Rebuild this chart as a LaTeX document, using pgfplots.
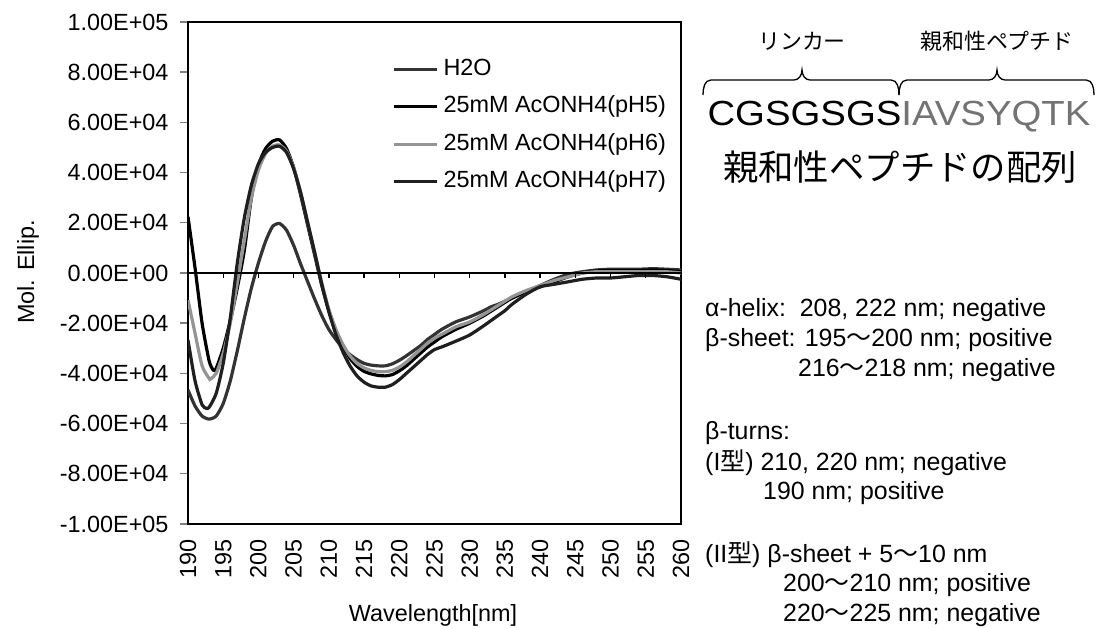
\documentclass[border=0pt]{standalone}
\usepackage{fontspec}
\setmainfont{Liberation Sans}
\newfontfamily\cjk{Noto Sans CJK JP}
\usepackage{pgfplots}
\pgfplotsset{compat=1.18}

\pgfplotstableread{
x y
190 -4.66
191 -5.30
192 -5.70
193 -5.82
194 -5.70
195 -5.20
196 -4.30
197 -3.10
198 -1.80
199 -0.60
200 0.40
201 1.25
202 1.85
203 1.97
204 1.70
205 1.10
206 0.35
207 -0.35
208 -1.05
209 -1.70
210 -2.25
211 -2.65
212 -3.00
213 -3.25
214 -3.45
215 -3.60
216 -3.67
217 -3.70
218 -3.70
219 -3.62
220 -3.48
221 -3.30
222 -3.10
223 -2.90
224 -2.65
225 -2.45
226 -2.25
228 -1.95
230 -1.75
232 -1.50
233 -1.35
234 -1.25
236 -1.00
238 -0.75
240 -0.50
242 -0.25
244 -0.05
246 0.05
248 0.12
250 0.15
252 0.15
254 0.15
256 0.17
258 0.15
260 0.12
}\dataHtwoO

\pgfplotstableread{
x y
190 2.24
191 0.20
192 -2.00
193 -3.50
193.6 -3.87
194 -3.80
195 -3.00
196 -1.90
197 -0.60
198 0.90
199 3.00
200 4.30
201 4.95
202 5.25
203 5.30
204 4.95
205 4.20
206 3.10
207 1.90
208 0.70
209 -0.50
210 -1.50
211 -2.30
212 -2.90
213 -3.40
214 -3.72
215 -3.92
216 -4.02
217 -4.08
218 -4.10
219 -4.05
220 -3.90
221 -3.70
222 -3.45
223 -3.20
224 -2.95
225 -2.75
226 -2.55
228 -2.25
230 -2.00
232 -1.70
234 -1.35
236 -1.00
238 -0.75
240 -0.55
242 -0.35
244 -0.15
246 0.00
248 0.08
250 0.10
252 0.10
254 0.10
256 0.12
258 0.10
260 0.05
}\dataPHfive

\pgfplotstableread{
x y
190 -1.08
191 -2.40
192 -3.70
193 -4.20
193.2 -4.22
194 -4.00
195 -3.20
196 -2.00
197 -0.40
198 1.30
199 3.00
200 4.10
201 4.75
202 5.05
203 5.10
204 4.85
205 4.20
206 3.20
207 2.00
208 0.80
209 -0.40
210 -1.45
211 -2.25
212 -2.85
213 -3.30
214 -3.60
215 -3.78
216 -3.88
217 -3.93
218 -3.93
219 -3.88
220 -3.75
221 -3.55
222 -3.30
223 -3.05
224 -2.80
225 -2.60
226 -2.45
228 -2.15
230 -1.95
232 -1.65
234 -1.30
236 -0.95
238 -0.70
240 -0.50
242 -0.30
244 -0.15
246 0.00
248 0.05
250 0.05
252 0.05
254 0.05
256 0.05
258 0.05
260 0.00
}\dataPHsix

\pgfplotstableread{
x y
190 -2.67
191 -4.30
192 -5.25
192.6 -5.39
193 -5.35
194 -4.80
195 -3.60
196 -1.80
197 0.40
198 2.20
199 3.50
200 4.35
201 4.80
202 5.00
203 5.05
204 4.80
205 4.15
206 3.20
207 2.00
208 0.80
209 -0.45
210 -1.55
211 -2.45
212 -3.15
213 -3.70
214 -4.10
215 -4.35
216 -4.50
217 -4.55
218 -4.55
219 -4.45
220 -4.25
221 -4.00
222 -3.75
223 -3.50
224 -3.25
225 -3.05
226 -2.95
228 -2.72
230 -2.47
232 -2.10
234 -1.70
235 -1.50
236 -1.25
238 -0.85
240 -0.55
242 -0.45
244 -0.35
246 -0.25
248 -0.20
250 -0.20
252 -0.15
254 -0.10
256 -0.10
258 -0.15
260 -0.25
}\dataPHseven

\begin{document}
\begin{tikzpicture}[x=1bp,y=1bp]
\path[use as bounding box] (0,0) rectangle (1098,629);
\begin{axis}[
  at={(188bp,105bp)}, anchor=south west,
  width=493bp, height=502bp, scale only axis,
  xmin=190, xmax=260, ymin=-10, ymax=10,
  axis line style={line width=2.2bp},
  xtick={190,195,200,205,210,215,220,225,230,235,240,245,250,255,260},
  xticklabels={190,195,200,205,210,215,220,225,230,235,240,245,250,255,260},
  ytick={-10,-8,-6,-4,-2,0,2,4,6,8,10},
  yticklabels={-1.00E+05,-8.00E+04,-6.00E+04,-4.00E+04,-2.00E+04,0.00E+00,2.00E+04,4.00E+04,6.00E+04,8.00E+04,1.00E+05},
  ytick pos=left, xtick pos=bottom,
  tick align=outside,
  major tick length=8bp,
  xtick style={draw=none},
  ytick style={line width=1.4bp},
  tick label style={font=\fontsize{23.5}{27}\selectfont},
  yticklabel style={xshift=-8bp},
  xticklabel style={rotate=90, anchor=east},
  xticklabel shift=4bp,
  legend style={at={(axis description cs:0.414,0.928)}, anchor=north west,
    draw=none, fill=none, font=\fontsize{23.5}{27}\selectfont,
    inner sep=0pt, row sep=15.5bp,
    nodes={inner sep=0pt, text height=17bp, text depth=5bp}},
  legend cell align=left,
  legend image code/.code={\draw[#1] (0bp,0bp) -- (43bp,0bp);},
  clip=true,
]
\addplot[black!80, line width=3.2bp, smooth, tension=0.4] table[x=x,y=y] {\dataHtwoO};
\addlegendentry{\hspace{5bp}H2O}
\addplot[black, line width=3.2bp, smooth, tension=0.4] table[x=x,y=y] {\dataPHfive};
\addlegendentry{\hspace{5bp}25mM AcONH4(pH5)}
\addplot[black!42, line width=3.2bp, smooth, tension=0.4] table[x=x,y=y] {\dataPHsix};
\addlegendentry{\hspace{5bp}25mM AcONH4(pH6)}
\addplot[black!88, line width=3.2bp, smooth, tension=0.4] table[x=x,y=y] {\dataPHseven};
\addlegendentry{\hspace{5bp}25mM AcONH4(pH7)}
\draw[line width=1.6bp] (axis cs:190,0) -- (axis cs:260,0);
\pgfplotsinvokeforeach{195,200,205,210,215,220,225,230,235,240,245,250,255}{
  \draw[line width=1.4bp] (axis cs:#1,0) -- ++(0bp,-5bp);
}
\end{axis}

% axis titles
\node[rotate=90, font=\fontsize{23.5}{27}\selectfont] at (28,357) {Mol. Ellip.};
\node[font=\fontsize{23.5}{27}\selectfont] at (433,14) {Wavelength[nm]};

% sequence header
\node[font=\cjk\fontsize{22}{26}\selectfont] at (802,588) {リンカー};
\node[font=\cjk\fontsize{22}{26}\selectfont] at (997,588) {親和性ペプチド};
\draw[line width=1.3bp]
  (703,534) to[out=90,in=180] (711,549) -- (794,549) to[out=0,in=-90] (802,559)
  to[out=-90,in=180] (810,549) -- (891,549) to[out=0,in=90] (899,534);
\draw[line width=1.3bp]
  (899,534) to[out=90,in=180] (907,549) -- (989,549) to[out=0,in=-90] (997,559)
  to[out=-90,in=180] (1005,549) -- (1086,549) to[out=0,in=90] (1094,534);
\node[font=\fontsize{35}{40}\selectfont] at (899,512)
  {\scalebox{1.1}[1]{CGSGSGS\textcolor{black!55}{IAVSYQTK}}};
\node[font=\cjk\fontsize{35.5}{40}\selectfont] at (900,462) {親和性ペプチドの配列};

% annotations
\begin{scope}[every node/.style={anchor=west, font=\fontsize{25}{29}\selectfont, inner sep=0pt}]
\node at (705,319) {α-helix:\ \ 208, 222 nm; negative};
\node at (705,289) {β-sheet: 195{\cjk ～}200 nm; positive};
\node at (798,259) {216{\cjk ～}218 nm; negative};
\node at (705,196) {β-turns:};
\node at (705,166) {(I{\cjk 型}) 210, 220 nm; negative};
\node at (763,136) {190 nm; positive};
\node at (705,74) {(II{\cjk 型}) β-sheet + 5{\cjk ～}10 nm};
\node at (783,44) {200{\cjk ～}210 nm; positive};
\node at (783,14) {220{\cjk ～}225 nm; negative};
\end{scope}
\end{tikzpicture}
\end{document}
